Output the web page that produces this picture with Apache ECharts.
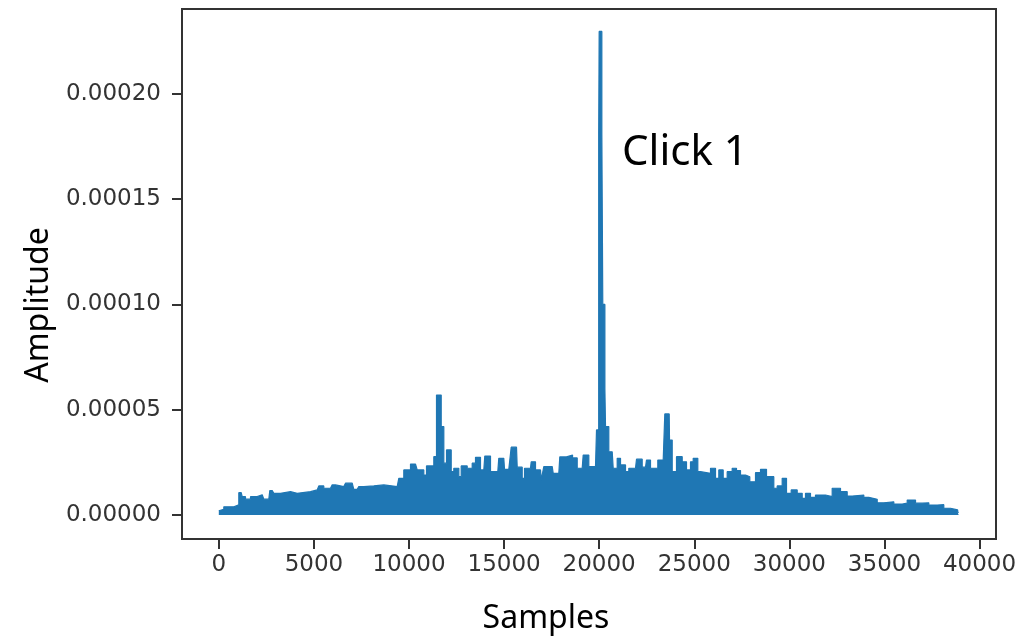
<!DOCTYPE html>
<html>
<head>
<meta charset="utf-8">
<script src="https://cdn.jsdelivr.net/npm/echarts@6/dist/echarts.min.js"></script>
<style>
  html, body { margin: 0; padding: 0; background: #fff; }
  #chart { width: 1017px; height: 638px; }
</style>
</head>
<body>
<div id="chart"></div>
<script>
// envelope of the signal: each segment is a plateau
var segStart = [0, 89, 263, 789, 1052, 1230, 1404, 1667, 2103, 2366, 2682, 2892, 3334, 3859, 4206, 4911, 5258, 5521, 5963, 6225,
  6662, 7098, 7361, 7714, 8239, 8765, 9464, 9727, 10080, 10432, 10779, 10921, 11305, 11447, 11694, 11831, 11973, 12220, 12357, 12620,
  12746, 13061, 13324, 13497, 13760, 13986, 14286, 14722, 15022, 15374, 15690, 15953, 16074, 16426, 16652, 16952, 17089, 17583, 17930, 18280,
  18600, 18845, 19160, 19455, 19860, 19975, 20000, 20140, 20190, 20300, 20333, 20506, 20737, 20948, 21122, 21385, 21558, 21963, 22262, 22488,
  22699, 23083, 23451, 23698, 23840, 24066, 24366, 24592, 24802, 24944, 25186, 25328, 25854, 26117, 26290, 26521, 26731, 26994, 27220, 27431,
  27694, 27920, 28220, 28483, 28798, 29182, 29360, 29623, 29850, 30097, 30412, 30675, 30848, 31111, 31374, 31900, 32252, 32689, 33041, 33304,
  33914, 34177, 34619, 34966, 35492, 35933, 36196, 36633, 36985, 37332, 37774, 38120, 38473, 38850];
var segEnd = [89, 263, 789, 1052, 1178, 1404, 1667, 2019, 2282, 2629, 2808, 3244, 3770, 4122, 4822, 5174, 5521, 5873, 6136, 6573,
  7014, 7277, 7624, 8150, 8676, 9380, 9727, 10080, 10343, 10779, 10921, 11305, 11447, 11694, 11831, 11973, 12220, 12357, 12620, 12746,
  13061, 13324, 13497, 13760, 13934, 14286, 14670, 14985, 15248, 15653, 15953, 16074, 16389, 16652, 16915, 17057, 17531, 17878, 18280, 18600,
  18845, 19108, 19455, 19807, 19975, 20000, 20140, 20190, 20300, 20333, 20506, 20685, 20948, 21122, 21385, 21558, 21910, 22262, 22436, 22699,
  23083, 23367, 23682, 23840, 24066, 24366, 24592, 24802, 24944, 25186, 25328, 25854, 26117, 26290, 26521, 26731, 26994, 27220, 27431, 27694,
  27920, 28220, 28483, 28798, 29182, 29360, 29623, 29850, 30097, 30412, 30675, 30848, 31111, 31374, 31900, 32252, 32689, 33041, 33304, 33914,
  34177, 34619, 34966, 35492, 35933, 36196, 36633, 36985, 37332, 37774, 38120, 38473, 38850, 38905];
var amplitude = [2.0e-6, 2.7e-6, 3.9e-6, 4.8e-6, 1.06e-5, 8.7e-6, 7.5e-6, 8.7e-6, 9.6e-6, 7.5e-6, 1.16e-5, 1.03e-5, 1.11e-5, 1.03e-5, 1.11e-5, 1.19e-5, 1.38e-5, 1.27e-5, 1.43e-5, 1.35e-5,
  1.51e-5, 1.22e-5, 1.35e-5, 1.38e-5, 1.43e-5, 1.35e-5, 1.74e-5, 2.14e-5, 2.42e-5, 2.14e-5, 1.9e-5, 2.33e-5, 2.77e-5, 5.7e-5, 4.2e-5, 2.46e-5, 3.09e-5, 2.06e-5, 2.22e-5, 1.82e-5,
  2.33e-5, 2.22e-5, 2.46e-5, 2.74e-5, 2.14e-5, 2.8e-5, 2.06e-5, 2.69e-5, 2.17e-5, 3.22e-5, 2.27e-5, 1.74e-5, 2.22e-5, 2.53e-5, 2.14e-5, 1.66e-5, 2.3e-5, 1.98e-5, 2.76e-5, 2.85e-5,
  2.71e-5, 2.22e-5, 2.85e-5, 2.3e-5, 4.04e-5, 1.81e-4, 2.297e-4, 1.81e-4, 1.0e-4, 6.0e-5, 4.2e-5, 3.0e-5, 2.22e-5, 2.69e-5, 2.38e-5, 2.06e-5, 2.22e-5, 2.65e-5, 2.27e-5, 2.61e-5,
  2.22e-5, 2.61e-5, 4.8e-5, 3.56e-5, 2.06e-5, 2.77e-5, 2.53e-5, 2.14e-5, 2.53e-5, 2.69e-5, 2.06e-5, 1.98e-5, 2.22e-5, 1.74e-5, 2.14e-5, 1.74e-5, 2.06e-5, 2.22e-5, 2.11e-5, 1.9e-5,
  1.82e-5, 1.58e-5, 2.01e-5, 2.17e-5, 1.82e-5, 1.27e-5, 1.38e-5, 1.74e-5, 1.03e-5, 1.19e-5, 1.03e-5, 7.9e-6, 1.03e-5, 8.4e-6, 9.5e-6, 8.7e-6, 1.27e-5, 1.11e-5, 9.0e-6, 9.5e-6,
  8.4e-6, 7.5e-6, 5.8e-6, 6.3e-6, 5.2e-6, 5.6e-6, 7.1e-6, 5.6e-6, 5.8e-6, 4.75e-6, 4.9e-6, 3.2e-6, 2.4e-6, 1.2e-6];

var xTicks = [0, 5000, 10000, 15000, 20000, 25000, 30000, 35000, 40000];
var yTicks = [0, 0.00005, 0.0001, 0.00015, 0.0002];

var points = [];
for (var i = 0; i < segStart.length; i++) {
    points.push([segStart[i], amplitude[i]]);
    points.push([segEnd[i], amplitude[i]]);
}

var myChart = echarts.init(document.getElementById('chart'));
var axisColor = '#333';
var option = {
    animation: false,
    grid: {
        left: 182, right: 21, top: 9, bottom: 99,
        outerBoundsMode: 'none',
        show: true, borderColor: axisColor, borderWidth: 2
    },
    xAxis: {
        type: 'value',
        min: -1935, max: 40865,
        name: 'Samples',
        nameLocation: 'middle',
        nameGap: 64,
        nameTextStyle: { fontFamily: 'Noto Sans', fontSize: 32, color: '#000', padding: [0, 86, 0, 0] },
        axisLine: { show: true, onZero: false, lineStyle: { color: axisColor, width: 2 } },
        axisTick: { show: true, customValues: xTicks, length: 10, lineStyle: { color: axisColor, width: 2 } },
        axisLabel: {
            customValues: xTicks, margin: 15,
            fontFamily: 'DejaVu Sans', fontSize: 23, color: '#333',
            formatter: function (v) { return String(v); }
        },
        splitLine: { show: false }
    },
    yAxis: {
        type: 'value',
        min: -0.0000114, max: 0.00024035,
        name: 'Amplitude',
        nameLocation: 'middle',
        nameGap: 124,
        nameTextStyle: { fontFamily: 'Noto Sans', fontSize: 32, color: '#000', padding: [0, 62, 0, 0] },
        axisLine: { show: true, onZero: false, lineStyle: { color: axisColor, width: 2 } },
        axisTick: { show: true, customValues: yTicks, length: 10, lineStyle: { color: axisColor, width: 2 } },
        axisLabel: {
            customValues: yTicks, margin: 21,
            fontFamily: 'DejaVu Sans', fontSize: 23, color: '#333',
            formatter: function (v) { return v.toFixed(5); }
        },
        splitLine: { show: false }
    },
    graphic: [{
        type: 'text', left: 622, top: 132,
        style: { text: 'Click 1', fontFamily: 'Noto Sans', fontSize: 42, fill: '#000' }
    }],
    series: [{
        type: 'line',
        data: points,
        showSymbol: false,
        sampling: 'none',
        lineStyle: { color: '#1f77b4', width: 1.2 },
        areaStyle: { color: '#1f77b4', opacity: 1 }
    }]
};
myChart.setOption(option);
</script>
</body>
</html>
